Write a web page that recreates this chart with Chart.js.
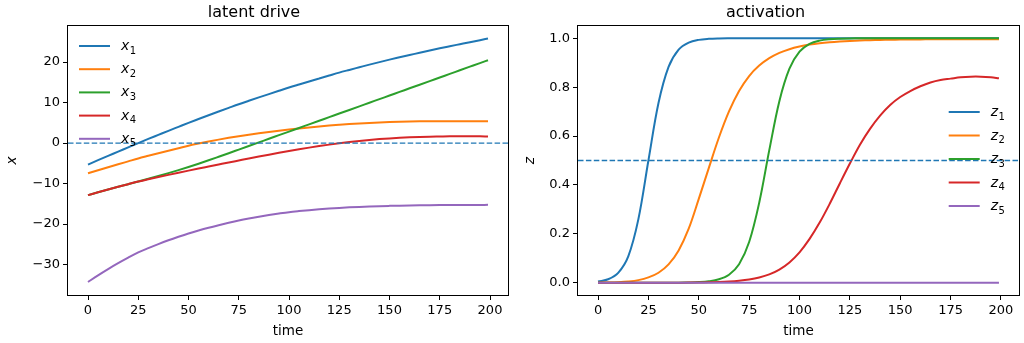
<!DOCTYPE html>
<html>
<head>
<meta charset="utf-8">
<script src="https://cdn.jsdelivr.net/npm/chart.js@4.4.0/dist/chart.umd.min.js"></script>
<style>
  body { margin: 0; background: #fff; }
  .wrap { display: flex; width: 1024px; height: 343px; }
  canvas { display: block; }
</style>
</head>
<body>
<div class="wrap">
  <canvas id="driveChart" width="512" height="343"></canvas>
  <canvas id="actChart" width="512" height="343"></canvas>
</div>
<script>
// sample times
const time = [0, 5, 10, 15, 20, 25, 30, 35, 40, 45, 50, 55, 60, 65, 70, 75, 80, 85, 90, 95, 100,
  105, 110, 115, 120, 125, 130, 135, 140, 145, 150, 155, 160, 165, 170, 175, 180, 185, 190, 195, 199];

// latent drive
const x1 = [-5.3, -4.22, -3.16, -2.11, -1.05, 0.0, 1.02, 2.02, 3.02, 4.01, 5.0, 5.94, 6.87, 7.79, 8.70, 9.6, 10.44, 11.27, 12.09, 12.9, 13.7,
  14.45, 15.19, 15.93, 16.67, 17.4, 18.06, 18.71, 19.36, 19.99, 20.6, 21.17, 21.73, 22.29, 22.85, 23.4, 23.91, 24.41, 24.91, 25.4, 25.8];
const x2 = [-7.45, -6.7, -5.97, -5.24, -4.52, -3.8, -3.15, -2.51, -1.88, -1.26, -0.65, -0.12, 0.38, 0.85, 1.29, 1.7, 2.07, 2.42, 2.75, 3.06, 3.35,
  3.62, 3.87, 4.1, 4.31, 4.5, 4.68, 4.84, 4.98, 5.1, 5.2, 5.28, 5.34, 5.38, 5.4, 5.4, 5.4, 5.4, 5.39, 5.38, 5.37];
const x3 = [-12.85, -12.15, -11.47, -10.8, -10.14, -9.48, -8.81, -8.12, -7.41, -6.67, -5.9, -5.09, -4.25, -3.38, -2.5, -1.61, -0.72, 0.17, 1.06, 1.95, 2.84,
  3.73, 4.62, 5.51, 6.4, 7.29, 8.18, 9.07, 9.96, 10.85, 11.74, 12.63, 13.52, 14.41, 15.3, 16.19, 17.08, 17.97, 18.86, 19.75, 20.46];
const x4 = [-12.85, -12.15, -11.47, -10.8, -10.14, -9.5, -8.94, -8.39, -7.85, -7.32, -6.8, -6.29, -5.79, -5.29, -4.79, -4.3, -3.81, -3.33, -2.86, -2.4, -1.95,
  -1.52, -1.12, -0.74, -0.38, -0.05, 0.26, 0.53, 0.77, 0.98, 1.15, 1.29, 1.41, 1.51, 1.58, 1.62, 1.66, 1.68, 1.68, 1.66, 1.63];
const x5 = [-34.3, -32.64, -31.1, -29.65, -28.29, -27.0, -25.93, -24.93, -23.99, -23.12, -22.3, -21.57, -20.89, -20.26, -19.66, -19.1, -18.61, -18.17, -17.76, -17.39, -17.05,
  -16.79, -16.56, -16.35, -16.16, -16.0, -15.87, -15.76, -15.66, -15.57, -15.5, -15.44, -15.39, -15.35, -15.32, -15.3, -15.29, -15.28, -15.27, -15.26, -15.25];

// activation
const z1 = [0.005, 0.0145, 0.0407, 0.1081, 0.2592, 0.5, 0.735, 0.8829, 0.9535, 0.9822, 0.9933, 0.9974, 0.999, 0.9996, 0.9998, 0.9999, 1, 1, 1, 1, 1,
  1, 1, 1, 1, 1, 1, 1, 1, 1, 1, 1, 1, 1, 1, 1, 1, 1, 1, 1, 1];
const z2 = [0.0006, 0.0012, 0.0025, 0.0053, 0.0108, 0.0219, 0.0411, 0.0752, 0.1324, 0.221, 0.343, 0.47, 0.5939, 0.7006, 0.7841, 0.8455, 0.888, 0.9184, 0.9399, 0.9552, 0.9661,
  0.9739, 0.9796, 0.9837, 0.9867, 0.989, 0.9908, 0.9922, 0.9932, 0.9939, 0.9945, 0.9949, 0.9952, 0.9954, 0.9955, 0.9955, 0.9955, 0.9955, 0.9955, 0.9954, 0.9954];
const z3 = [0, 0, 0, 0, 0, 0.0001, 0.0001, 0.0003, 0.0006, 0.0013, 0.0027, 0.0061, 0.0141, 0.0329, 0.0759, 0.1666, 0.3274, 0.5424, 0.7427, 0.8754, 0.9448,
  0.9766, 0.9902, 0.996, 0.9983, 0.9993, 0.9997, 0.9999, 1, 1, 1, 1, 1, 1, 1, 1, 1, 1, 1, 1, 1];
const z4 = [0, 0, 0, 0, 0, 0.0001, 0.0001, 0.0002, 0.0004, 0.0007, 0.0011, 0.0019, 0.003, 0.005, 0.0083, 0.0134, 0.0217, 0.0346, 0.0542, 0.0832, 0.1245,
  0.1795, 0.246, 0.323, 0.4061, 0.4875, 0.5646, 0.6295, 0.6835, 0.7271, 0.7595, 0.7841, 0.8038, 0.8191, 0.8292, 0.8348, 0.8403, 0.8429, 0.8429, 0.8403, 0.8362];
const z5 = [0, 0, 0, 0, 0, 0, 0, 0, 0, 0, 0, 0, 0, 0, 0, 0, 0, 0, 0, 0, 0,
  0, 0, 0, 0, 0, 0, 0, 0, 0, 0, 0, 0, 0, 0, 0, 0, 0, 0, 0, 0];

const xNames = ['x₁', 'x₂', 'x₃', 'x₄', 'x₅'];
const zNames = ['z₁', 'z₂', 'z₃', 'z₄', 'z₅'];
const colors = ['#1f77b4', '#ff7f0e', '#2ca02c', '#d62728', '#9467bd'];

const timeTicks = [0, 25, 50, 75, 100, 125, 150, 175, 200];
const xTicks = [-30, -20, -10, 0, 10, 20];
const zTicks = [0, 0.2, 0.4, 0.6, 0.8, 1.0];
const xThreshold = 0;
const zThreshold = 0.5;

const FONT = 'DejaVu Sans';
const TIME_MIN = -9.95, TIME_MAX = 208.95;

// box around the axes, like matplotlib spines
const frame = {
  id: 'frame',
  afterDraw(chart) {
    const { ctx, chartArea: a } = chart;
    ctx.save();
    ctx.strokeStyle = '#000';
    ctx.lineWidth = 1;
    ctx.strokeRect(Math.round(a.left) - 0.5, Math.round(a.top) - 0.5,
      Math.round(a.right - a.left) + 1, Math.round(a.bottom - a.top) + 1);
    ctx.restore();
  }
};

// frameless legend with subscripted labels
const subLegend = {
  id: 'subLegend',
  afterDraw(chart, args, opts) {
    const { ctx, chartArea: a } = chart;
    const x0 = opts.fromRight ? a.right - opts.x : a.left + opts.x;
    const items = chart.data.datasets.filter(d => d.inLegend);
    ctx.save();
    items.forEach((d, i) => {
      const y = a.top + opts.y + i * opts.gap;
      ctx.strokeStyle = d.borderColor;
      ctx.lineWidth = 2;
      ctx.beginPath();
      ctx.moveTo(x0, y);
      ctx.lineTo(x0 + 31, y);
      ctx.stroke();
      const base = d.label.slice(0, 1);
      const sub = String(d.label.codePointAt(1) - 0x2080);
      ctx.fillStyle = '#000';
      ctx.textBaseline = 'alphabetic';
      ctx.font = 'italic 14px "' + FONT + '"';
      ctx.fillText(base, x0 + 42, y + 4);
      const w = ctx.measureText(base).width;
      ctx.font = '10px "' + FONT + '"';
      ctx.fillText(sub, x0 + 42 + w + 0.5, y + 7.5);
    });
    ctx.restore();
  }
};

function tickLabel(v) {
  return v < 0 ? '\u2212' + Math.abs(v) : String(v);
}

function makeChart(id, opts) {
  const datasets = opts.series.map((s, i) => ({
    label: opts.names[i],
    inLegend: true,
    data: time.map((t, j) => ({ x: t, y: s[j] })),
    borderColor: colors[i],
    borderWidth: 2,
    pointRadius: 0,
    tension: opts.tension,
    cubicInterpolationMode: opts.mode,
    order: 5 - i
  }));
  datasets.push({
    label: 'threshold',
    inLegend: false,
    data: [{ x: TIME_MIN, y: opts.threshold }, { x: TIME_MAX, y: opts.threshold }],
    borderColor: colors[0],
    borderWidth: 1.3,
    borderDash: [5.5, 2.4],
    pointRadius: 0,
    order: -1
  });

  return new Chart(document.getElementById(id), {
    type: 'line',
    data: { datasets },
    plugins: [frame, subLegend],
    options: {
      responsive: false,
      animation: false,
      events: [],
      layout: { padding: { left: 0, right: opts.padRight, top: 0, bottom: 0 } },
      plugins: {
        legend: { display: false },
        tooltip: { enabled: false },
        title: {
          display: true,
          text: opts.title,
          color: '#000',
          font: { family: FONT, size: 16, weight: 'normal', lineHeight: 1.2 },
          padding: { top: 3, bottom: 3.8 }
        },
        subLegend: opts.legend
      },
      scales: {
        x: {
          type: 'linear',
          min: TIME_MIN,
          max: TIME_MAX,
          afterBuildTicks: s => { s.ticks = timeTicks.map(v => ({ value: v })); },
          afterFit: s => { s.height = 48; },
          ticks: { color: '#000', font: { family: FONT, size: 13 }, padding: 3, maxRotation: 0,
            callback: v => tickLabel(v) },
          grid: { drawOnChartArea: false, drawTicks: true, tickLength: 5, tickColor: '#000', tickWidth: 1 },
          border: { display: false },
          title: { display: true, text: 'time', color: '#000',
            font: { family: FONT, size: 13.5, lineHeight: 1.2 }, padding: { top: 0, bottom: 3.5 } }
        },
        y: {
          min: opts.yMin,
          max: opts.yMax,
          afterBuildTicks: s => { s.ticks = opts.yTicks.map(v => ({ value: v })); },
          afterFit: s => { s.width = opts.yWidth; },
          ticks: { color: '#000', font: { family: FONT, size: 13 }, padding: 3,
            callback: opts.yFormat },
          grid: { drawOnChartArea: false, drawTicks: true, tickLength: 5, tickColor: '#000', tickWidth: 1 },
          border: { display: false },
          title: { display: true, text: opts.yTitle, color: '#000',
            font: { family: FONT, size: 14, style: 'italic', lineHeight: 1.2 }, padding: { top: opts.yTitlePad, bottom: 0 } }
        }
      }
    }
  });
}

makeChart('driveChart', {
  title: 'latent drive',
  series: [x1, x2, x3, x4, x5],
  names: xNames,
  threshold: xThreshold,
  yMin: -37.5, yMax: 28.9,
  yTicks: xTicks,
  yFormat: v => tickLabel(v),
  yTitle: 'x',
  yTitlePad: 3.6,
  yWidth: 68,
  padRight: 4,
  mode: 'monotone',
  tension: 0,
  legend: { fromRight: false, x: 11, y: 20, gap: 23.2 }
});

makeChart('actChart', {
  title: 'activation',
  series: [z1, z2, z3, z4, z5],
  names: zNames,
  threshold: zThreshold,
  yMin: -0.05, yMax: 1.05,
  yTicks: zTicks,
  yFormat: v => v.toFixed(1),
  yTitle: 'z',
  yTitlePad: 10.3,
  yWidth: 66,
  padRight: 5,
  mode: 'default',
  tension: 0.35,
  legend: { fromRight: true, x: 70.3, y: 86, gap: 23.5 }
});
</script>
</body>
</html>
